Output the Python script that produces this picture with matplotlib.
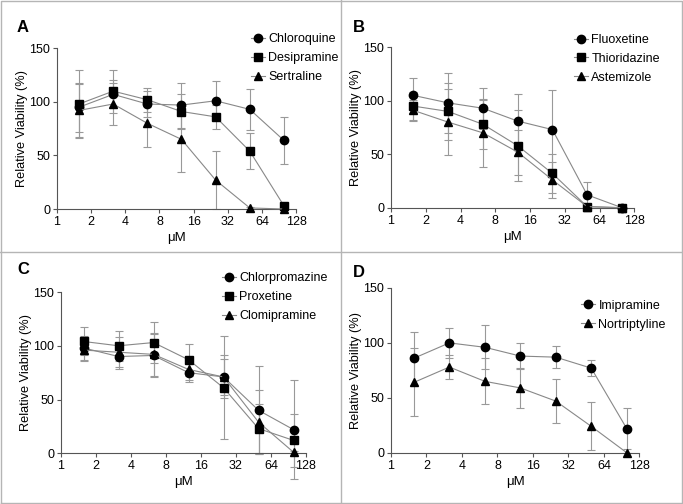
import matplotlib
matplotlib.use('Agg')
import matplotlib.pyplot as plt
from matplotlib.lines import Line2D
from matplotlib.ticker import FixedLocator, NullLocator

plt.rcParams['font.family'] = ['Liberation Sans', 'DejaVu Sans']

dose = [1.5625, 3.125, 6.25, 12.5, 25, 50, 100]
xticks = [1, 2, 4, 8, 16, 32, 64, 128]
yticks = [0, 50, 100, 150]

# panel A
chloroquine = [95, 107, 98, 97, 101, 93, 64]
chloroquine_err = [23, 13, 12, 21, 18, 19, 22]
desipramine = [98, 110, 102, 91, 86, 54, 3]
desipramine_err = [32, 20, 11, 16, 11, 17, 2]
sertraline = [92, 98, 80, 65, 27, 1, 0]
sertraline_err = [25, 20, 22, 30, 27, 1, 0]

# panel B
fluoxetine = [105, 98, 93, 81, 73, 12, 0]
fluoxetine_err = [16, 28, 19, 25, 37, 12, 0]
thioridazine = [95, 90, 78, 58, 32, 1, 0]
thioridazine_err = [13, 27, 23, 33, 18, 1, 0]
astemizole = [91, 80, 70, 52, 26, 1, 0]
astemizole_err = [10, 31, 32, 21, 17, 1, 0]

# panel C
chlorpromazine = [98, 90, 91, 75, 71, 40, 22]
chlorpromazine_err = [11, 12, 20, 9, 20, 41, 46]
proxetine = [104, 100, 103, 87, 61, 23, 12]
proxetine_err = [13, 14, 19, 15, 48, 23, 25]
clomipramine = [96, 94, 92, 78, 71, 29, 1]
clomipramine_err = [10, 14, 20, 10, 17, 30, 1]

# panel D
imipramine = [86, 100, 96, 88, 87, 77, 22]
imipramine_err = [24, 14, 20, 12, 10, 7, 19]
nortriptyline = [64, 78, 65, 59, 47, 24, 0]
nortriptyline_err = [31, 11, 21, 18, 20, 22, 0]

panels = [
    ('A', [0.0835, 0.5853, 0.350, 0.3189], (0.811, 1.093),
     [('Chloroquine', chloroquine, chloroquine_err, 'o'),
      ('Desipramine', desipramine, desipramine_err, 's'),
      ('Sertraline', sertraline, sertraline_err, '^')],
     (17 / 683, 1 - 32 / 504)),
    ('B', [0.5725, 0.5879, 0.3562, 0.3183], (0.752, 1.083),
     [('Fluoxetine', fluoxetine, fluoxetine_err, 'o'),
      ('Thioridazine', thioridazine, thioridazine_err, 's'),
      ('Astemizole', astemizole, astemizole_err, '^')],
     (353 / 683, 1 - 32 / 504)),
    ('C', [0.0893, 0.1006, 0.3587, 0.3200], (0.657, 1.122),
     [('Chlorpromazine', chlorpromazine, chlorpromazine_err, 'o'),
      ('Proxetine', proxetine, proxetine_err, 's'),
      ('Clomipramine', clomipramine, clomipramine_err, '^')],
     (17 / 683, 1 - 274 / 504)),
    ('D', [0.5725, 0.1018, 0.3636, 0.3268], (0.765, 0.928),
     [('Imipramine', imipramine, imipramine_err, 'o'),
      ('Nortriptyline', nortriptyline, nortriptyline_err, '^')],
     (353 / 683, 1 - 277 / 504)),
]

fig = plt.figure(figsize=(6.83, 5.04), dpi=100)

for letter, rect, leg_pos, series, letter_pos in panels:
    ax = fig.add_axes(rect)
    for name, vals, errs, mk in series:
        ax.errorbar(dose, vals, yerr=errs, fmt='none', ecolor='#999999',
                    elinewidth=0.8, capsize=3, capthick=0.8, clip_on=False)
    for name, vals, errs, mk in series:
        ms = 5.5 if mk == 's' else 6
        ax.plot(dose, vals, color='#888888', lw=0.8, marker=mk, ms=ms,
                mfc='black', mec='black', label=name, clip_on=False, zorder=3)
    ax.set_xscale('log', base=2)
    ax.set_xlim(1, 128)
    ax.set_ylim(0, 150)
    ax.xaxis.set_major_locator(FixedLocator(xticks))
    ax.xaxis.set_minor_locator(NullLocator())
    ax.set_xticklabels([str(t) for t in xticks])
    ax.set_yticks(yticks)
    for s in ['top', 'right']:
        ax.spines[s].set_visible(False)
    for s in ['left', 'bottom']:
        ax.spines[s].set_linewidth(0.8)
        ax.spines[s].set_color('#555555')
    ax.tick_params(direction='out', length=3, width=0.8, color='#555555',
                   labelsize=9, pad=2)
    ax.set_xlabel('μM', fontsize=9.5, labelpad=3)
    ax.set_ylabel('Relative Viability (%)', fontsize=9.2, labelpad=1)
    ax.legend(loc='upper left', bbox_to_anchor=leg_pos, frameon=False,
              fontsize=9, handlelength=1.1, handletextpad=0.3,
              labelspacing=0.55, borderpad=0, borderaxespad=0)
    fig.text(letter_pos[0], letter_pos[1], letter, fontsize=12,
             fontweight='bold', ha='left', va='baseline')

# panel frames
gray = '#b5b5b5'
fig.add_artist(Line2D([0.001, 0.999, 0.999, 0.001, 0.001],
                      [0.001, 0.001, 0.999, 0.999, 0.001], color=gray, lw=1))
fig.add_artist(Line2D([341 / 683, 341 / 683], [0, 1], color=gray, lw=1))
fig.add_artist(Line2D([0, 1], [0.5, 0.5], color=gray, lw=1))

fig.savefig('out.png', dpi=100)
